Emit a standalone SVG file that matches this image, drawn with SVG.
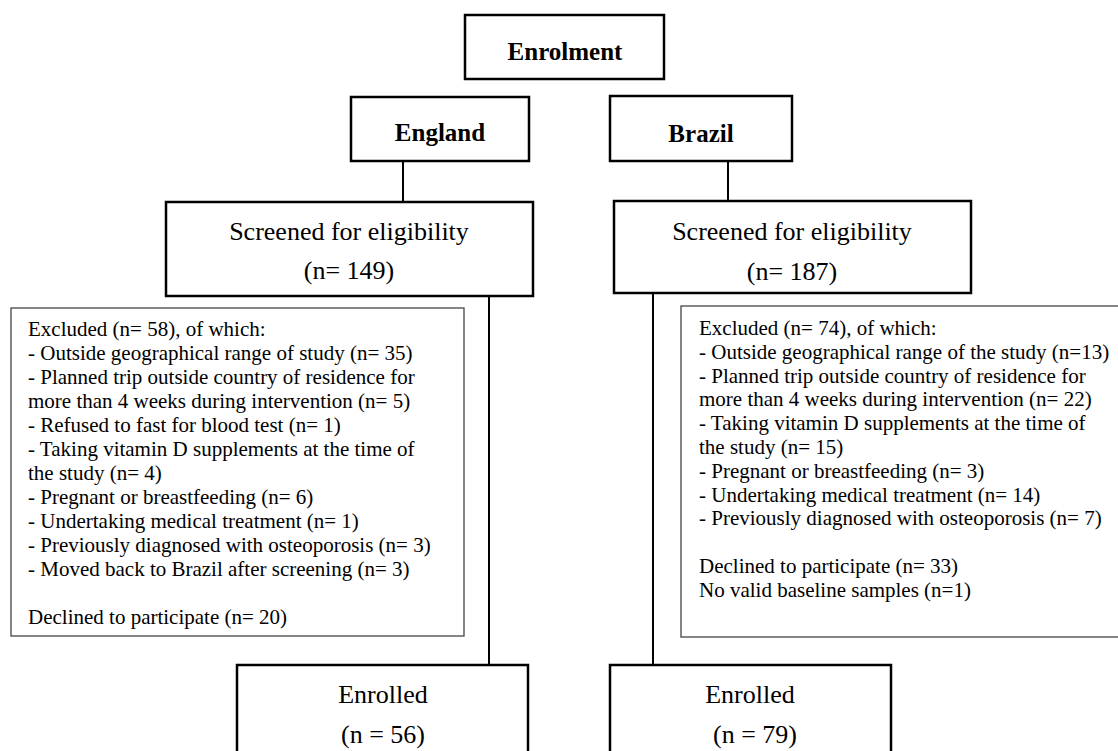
<svg xmlns="http://www.w3.org/2000/svg" width="1118" height="751" viewBox="0 0 1118 751">
<style>
.box{fill:#fff;stroke:#000;stroke-width:2.5}
.thin{fill:#fff;stroke:#444;stroke-width:1.3}
.conn{stroke:#000;stroke-width:2;fill:none}
.t{font-family:"Liberation Serif","Times New Roman",serif;fill:#000}
.b{font-size:25px;font-weight:bold;text-anchor:middle}
.m{font-size:26px;text-anchor:middle}
.s{font-size:21px}
</style>
<rect width="1118" height="751" fill="#fff"/>
<g id="connectors">
<line class="conn" x1="403" y1="161" x2="403" y2="202"/>
<line class="conn" x1="728" y1="161" x2="728" y2="201"/>
<line class="conn" x1="489" y1="296" x2="489" y2="665"/>
<line class="conn" x1="653" y1="293" x2="653" y2="665"/>
</g>
<g id="enrolment">
<rect class="box" x="465" y="15" width="199" height="64"/>
<text class="t b" x="565" y="60">Enrolment</text>
</g>
<g id="england">
<rect class="box" x="351" y="97" width="178" height="64"/>
<text class="t b" x="440" y="141">England</text>
</g>
<g id="brazil">
<rect class="box" x="610" y="96" width="182" height="65"/>
<text class="t b" x="701" y="142">Brazil</text>
</g>
<g id="screened-england">
<rect class="box" x="166" y="202" width="367" height="94"/>
<text class="t m" x="349" y="240">Screened for eligibility</text>
<text class="t m" x="349" y="279">(n= 149)</text>
</g>
<g id="screened-brazil">
<rect class="box" x="614" y="201" width="357" height="92"/>
<text class="t m" x="792" y="240">Screened for eligibility</text>
<text class="t m" x="792" y="280">(n= 187)</text>
</g>
<g id="excluded-england">
<rect class="thin" x="11" y="308" width="453" height="328"/>
<text class="t s" x="28" y="336">
<tspan x="28" y="336">Excluded (n= 58), of which:</tspan>
<tspan x="28" y="360">- Outside geographical range of study (n= 35)</tspan>
<tspan x="28" y="384">- Planned trip outside country of residence for</tspan>
<tspan x="28" y="408">more than 4 weeks during intervention (n= 5)</tspan>
<tspan x="28" y="432">- Refused to fast for blood test (n= 1)</tspan>
<tspan x="28" y="456">- Taking vitamin D supplements at the time of</tspan>
<tspan x="28" y="480">the study (n= 4)</tspan>
<tspan x="28" y="504">- Pregnant or breastfeeding (n= 6)</tspan>
<tspan x="28" y="528">- Undertaking medical treatment (n= 1)</tspan>
<tspan x="28" y="552">- Previously diagnosed with osteoporosis (n= 3)</tspan>
<tspan x="28" y="576">- Moved back to Brazil after screening (n= 3)</tspan>
<tspan x="28" y="624">Declined to participate (n= 20)</tspan>
</text>
</g>
<g id="excluded-brazil">
<rect class="thin" x="681" y="306" width="444" height="331"/>
<text class="t s" x="699" y="335">
<tspan x="699" y="335">Excluded (n= 74), of which:</tspan>
<tspan x="699" y="359">- Outside geographical range of the study (n=13)</tspan>
<tspan x="699" y="383">- Planned trip outside country of residence for</tspan>
<tspan x="699" y="406">more than 4 weeks during intervention (n= 22)</tspan>
<tspan x="699" y="430">- Taking vitamin D supplements at the time of</tspan>
<tspan x="699" y="454">the study (n= 15)</tspan>
<tspan x="699" y="478">- Pregnant or breastfeeding (n= 3)</tspan>
<tspan x="699" y="502">- Undertaking medical treatment (n= 14)</tspan>
<tspan x="699" y="525">- Previously diagnosed with osteoporosis (n= 7)</tspan>
<tspan x="699" y="573">Declined to participate (n= 33)</tspan>
<tspan x="699" y="597">No valid baseline samples (n=1)</tspan>
</text>
</g>
<g id="enrolled-england">
<rect class="box" x="237" y="665" width="291" height="110"/>
<text class="t m" x="383" y="703">Enrolled</text>
<text class="t m" x="383" y="743">(n = 56)</text>
</g>
<g id="enrolled-brazil">
<rect class="box" x="610" y="665" width="281" height="110"/>
<text class="t m" x="750" y="703">Enrolled</text>
<text class="t m" x="755" y="743">(n = 79)</text>
</g>
</svg>
